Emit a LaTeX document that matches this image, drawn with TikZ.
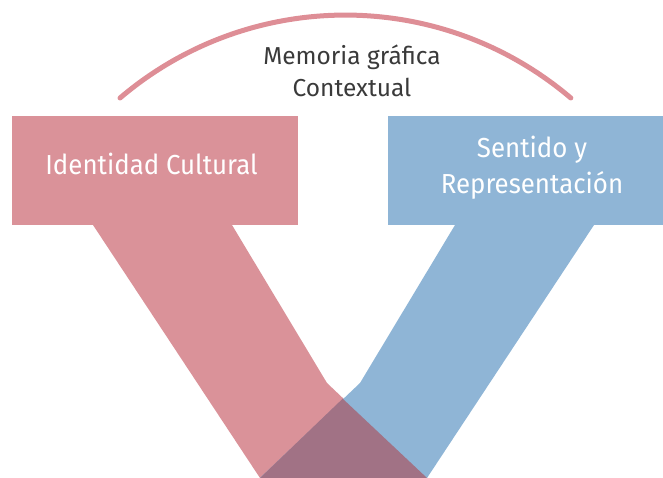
\documentclass[tikz,border=0pt]{standalone}
\usepackage{fontspec}
\setmainfont{Fira Sans}
\newfontfamily\boxfont[FakeStretch=0.94]{Fira Sans}
\definecolor{pinkc}{RGB}{218,146,153}
\definecolor{bluec}{RGB}{143,181,214}
\definecolor{mixc}{RGB}{161,114,133}
\definecolor{arcc}{RGB}{222,142,150}
\definecolor{txtc}{RGB}{58,58,58}
\begin{document}
\begin{tikzpicture}[x=1pt,y=-1pt,
  boxtext/.style={text=white,font=\boxfont\fontsize{27.5}{36}\selectfont,align=center,inner sep=0pt},
  toptext/.style={text=txtc,font=\fontsize{24.5}{32.5}\selectfont,align=center,inner sep=0pt}]
\useasboundingbox (0,0) rectangle (663,478);
% bands
\fill[pinkc] (93,225) -- (232,225) -- (327,383) -- (427,478) -- (260,478) -- cycle;
\fill[bluec] (455,225) -- (594,225) -- (427,478) -- (260,478) -- (360,383) -- cycle;
\fill[mixc] (342.7,398.7) -- (427,478) -- (260,478) -- cycle;
% boxes
\fill[pinkc] (12,116) rectangle (298,225);
\fill[bluec] (388,116) rectangle (663,225);
\node[boxtext] (ic) at (151.5,163.5) {Identidad Cultural};
\node[boxtext] (sr) at (532,167.5) {Sentido y\\Representación};
% arc
\draw[arcc,line width=5,line cap=round] (120,98) arc[start angle=-130.4,end angle=-49.6,radius=347.8];
\node[toptext] (mg) at (352,71) {Memoria gráfica\\Contextual};
\end{tikzpicture}
\end{document}
